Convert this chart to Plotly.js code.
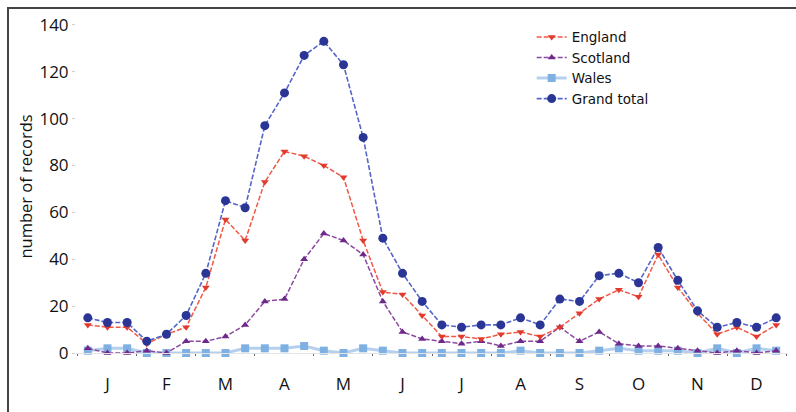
<!DOCTYPE html>
<html>
<head>
<meta charset="utf-8">
<script src="https://cdn.plot.ly/plotly-3.0.1.min.js"></script>
<style>html,body{margin:0;padding:0;background:#fff;}#chart{width:796px;height:412px;}</style>
</head>
<body>
<div id="chart"></div>
<script>
// 36 ten-day periods (3 per month)
const periods = Array.from({length: 36}, (_, i) => i);
const monthLabels = ["J","F","M","A","M","J","J","A","S","O","N","D"];
const monthTickPos = [1,4,7,10,13,16,19,22,25,28,31,34];

const england = [12,11,11,4,8,11,28,57,48,73,86,84,80,75,48,26,25,16,7,7,6,8,9,7,11,17,23,27,24,42,28,17,8,11,7,12];
const scotland = [2,0,0,1,0,5,5,7,12,22,23,40,51,48,42,22,9,6,5,4,5,3,5,5,11,5,9,4,3,3,2,1,0,1,0,1];
const wales = [1,2,2,0,0,0,0,0,2,2,2,3,1,0,2,1,0,0,0,0,0,0,1,0,0,0,1,2,1,1,1,0,2,0,2,1];
const grandTotal = [15,13,13,5,8,16,34,65,62,97,111,127,133,123,92,49,34,22,12,11,12,12,15,12,23,22,33,34,30,45,31,18,11,13,11,15];

const seriesNames = ["England","Scotland","Wales","Grand total"];

function tr(name, y, lineColor, lineWidth, dash, mColor, symbol, size, rank) {
  return {
    x: periods, y: y, name: name, type: "scatter", mode: "lines+markers",
    cliponaxis: false, legendrank: rank,
    line: {color: lineColor, width: lineWidth, dash: dash},
    marker: {color: mColor, symbol: symbol, size: size}
  };
}

const data = [
  tr(seriesNames[2], wales, "rgba(120,170,225,0.55)", 3, "solid", "#7eb0e2", "square", 8, 3),
  tr(seriesNames[1], scotland, "#8a4aa0", 1.5, "5px,2px", "#6e2a8a", "triangle-up", 7, 2),
  tr(seriesNames[0], england, "#ef5a48", 1.5, "5px,2px", "#e23a2c", "triangle-down", 7, 1),
  tr(seriesNames[3], grandTotal, "#5566c8", 1.6, "5px,2px", "#2a3596", "circle", 9, 4)
];

const layout = {
  width: 796, height: 412,
  margin: {l: 76, r: 8, t: 20, b: 59},
  paper_bgcolor: "#fff", plot_bgcolor: "#fff",
  font: {family: "'Open Sans', 'DejaVu Sans', sans-serif", color: "#111", size: 16},
  showlegend: true,
  legend: {
    x: 0.64, xanchor: "left", y: 0.995, yanchor: "top",
    font: {size: 13.5, color: "#111", family: "'DejaVu Sans', sans-serif"},
    traceorder: "normal", bgcolor: "rgba(0,0,0,0)",
    itemwidth: 30
  },
  xaxis: {
    range: [-0.6, 35.6],
    tickmode: "array", tickvals: monthTickPos, ticktext: monthLabels,
    ticks: "", showgrid: false, zeroline: false,
    showline: true, linecolor: "#e4e4e4", linewidth: 1,
    ticklabelstandoff: 16,
    tickfont: {size: 17},
    minor: {tick0: -0.5, dtick: 3, ticks: "outside", ticklen: 2, tickcolor: "#666", showgrid: false}
  },
  yaxis: {
    range: [0, 142.1],
    tickvals: [0,20,40,60,80,100,120,140],
    ticks: "outside", ticklen: 3, tickcolor: "#cfcfcf", tickwidth: 1,
    showgrid: false, zeroline: false, showline: false,
    tickfont: {size: 17},
    title: {text: "number of records", font: {size: 16.5}, standoff: 2}
  },
  shapes: [{
    type: "rect", xref: "paper", yref: "paper",
    x0: -0.0955, x1: 1.2, y0: -0.4, y1: 1.036,
    line: {color: "#444", width: 2}, fillcolor: "rgba(0,0,0,0)", layer: "below"
  }]
};

Plotly.newPlot("chart", data, layout, {displayModeBar: false, staticPlot: true});
</script>
</body>
</html>
